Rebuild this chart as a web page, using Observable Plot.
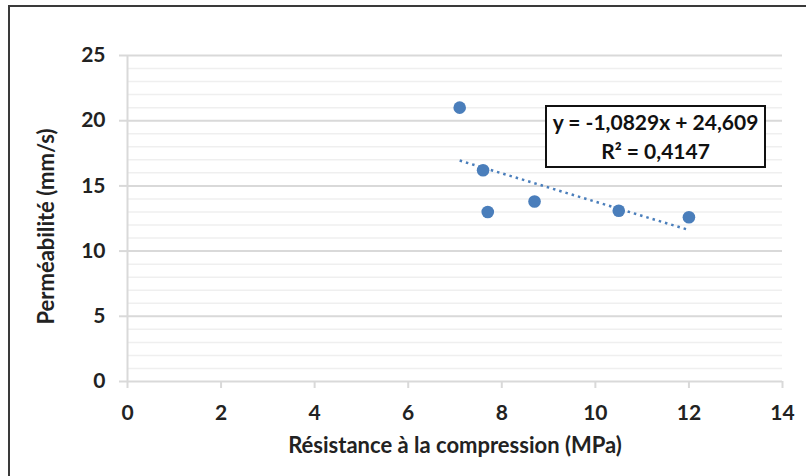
<!DOCTYPE html>
<html>
<head>
<meta charset="utf-8">
<script src="https://cdn.jsdelivr.net/npm/d3@7"></script>
<script src="https://cdn.jsdelivr.net/npm/@observablehq/plot@0.6"></script>
<style>
  html, body { margin: 0; padding: 0; background: #fff; }
  #wrap { position: relative; width: 806px; height: 476px; overflow: hidden; background: #fff; }
  #wrap svg { position: absolute; left: 0; top: 0; }
  #frame { position: absolute; left: 8px; top: 5px; width: 820px; height: 500px;
           border-top: 2px solid #3a3a3a; border-left: 2px solid #3a3a3a; box-sizing: border-box; pointer-events: none; }
  #eq { position: absolute; left: 545px; top: 105px; width: 221px; height: 63px; box-sizing: border-box;
        border: 2px solid #111; background: #fff; font-family: Lato, sans-serif; font-weight: bold;
        font-size: 21px; color: #111; text-align: center; line-height: 29px; padding-top: 0px; }
</style>
</head>
<body>
<div id="wrap">
  <div id="frame"></div>
</div>
<script>
// Data
const resistance = [7.1, 7.6, 7.7, 8.7, 10.5, 12.0];   // MPa
const permeability = [21.0, 16.2, 13.0, 13.8, 13.1, 12.6]; // mm/s
const xTicks = [0, 2, 4, 6, 8, 10, 12, 14];
const yTicks = [0, 5, 10, 15, 20, 25];
const yMinor = [1, 2, 3, 4, 6, 7, 8, 9, 11, 12, 13, 14, 16, 17, 18, 19, 21, 22, 23, 24];
const xTitle = "Résistance à la compression (MPa)";
const yTitle = "Perméabilité (mm/s)";
const eqLines = ["y = -1,0829x + 24,609", "R² = 0,4147"];

const data = resistance.map((x, i) => ({x, y: permeability[i]}));
const blue = "#4a7ebb";

const chart = Plot.plot({
  width: 806,
  height: 476,
  marginLeft: 127,
  marginRight: 24,
  marginTop: 55,
  marginBottom: 95,
  style: {fontFamily: "Lato, sans-serif", fontWeight: "bold", fontSize: "21px", color: "#222", background: "transparent"},
  x: {domain: [0, 14]},
  y: {domain: [0, 25]},
  marks: [
    Plot.ruleY(yMinor, {stroke: "#efefef", strokeWidth: 1.5}),
    Plot.ruleY(yTicks, {stroke: "#d9d9d9", strokeWidth: 2}),
    Plot.ruleX([0], {stroke: "#d9d9d9", strokeWidth: 2}),
    Plot.axisY({ticks: yTicks, tickSize: 8, tickPadding: 14, stroke: "#d9d9d9", strokeWidth: 2, fill: "#222", label: null, tickFormat: d => String(d)}),
    Plot.axisX({ticks: xTicks, tickSize: 7, tickPadding: 17, stroke: "#d9d9d9", strokeWidth: 2, fill: "#222", label: null, tickFormat: d => String(d)}),
    Plot.linearRegressionY(data, {x: "x", y: "y", ci: 0, stroke: blue, strokeWidth: 2.5, strokeDasharray: "2.5,4", strokeLinecap: "butt"}),
    Plot.dot(data, {x: "x", y: "y", r: 6.3, fill: blue, stroke: null}),
    Plot.text([xTitle], {frameAnchor: "bottom", textAnchor: "middle", lineAnchor: "middle", dy: 64, fill: "#222", fontSize: 22}),
    Plot.text([yTitle], {frameAnchor: "left", textAnchor: "middle", lineAnchor: "middle", dx: -81, dy: 8, rotate: -90, fill: "#222", fontSize: 22})
  ]
});
const wrap = document.getElementById("wrap");
wrap.insertBefore(chart, wrap.firstChild);

const eq = document.createElement("div");
eq.id = "eq";
eq.innerHTML = eqLines.join("<br>");
wrap.appendChild(eq);
</script>
</body>
</html>
